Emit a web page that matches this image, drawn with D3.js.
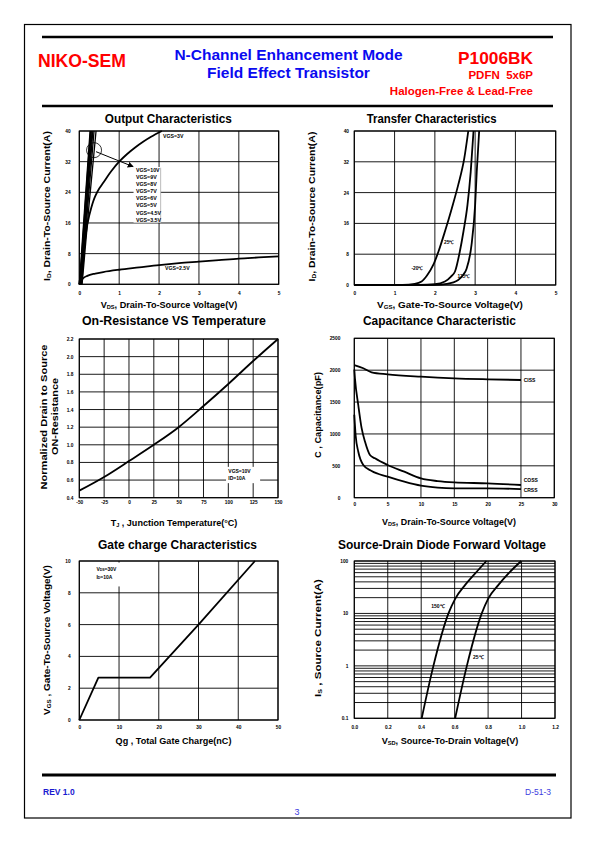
<!DOCTYPE html>
<html><head><meta charset="utf-8">
<script src="https://cdn.jsdelivr.net/npm/d3@7"></script>
<style>
body{margin:0;background:#fff}
svg{display:block}
text{font-family:"Liberation Sans",Arial,Helvetica,sans-serif}
</style>
</head><body>
<svg id="page" width="595" height="842"></svg>
<script>
// ---------------- DATA ----------------
// 1. Output characteristics (VDS [V], ID [A])
const outXTicks = [0,1,2,3,4,5];
const outYTicks = [0,8,16,24,32,40];
const outVgs3V  = [[0,0],[0.05,4],[0.1,8],[0.15,12],[0.2,15.5],[0.3,20],[0.4,23],[0.5,25],[0.6,26.5],[0.8,29.5],[1.0,32],[1.2,34],[1.4,35.7],[1.6,37.2],[1.8,38.5],[2.07,40]];
const outVgs25V = [[0,0],[0.05,1],[0.1,1.6],[0.2,2.2],[0.4,2.8],[0.6,3.2],[1,3.8],[1.5,4.4],[2,5.0],[2.5,5.5],[3,5.9],[3.5,6.3],[4,6.7],[4.5,7.0],[5,7.3]];
const outSteepNames = ["VGS=10V","VGS=9V","VGS=8V","VGS=7V","VGS=6V","VGS=5V","VGS=4.5V","VGS=3.5V"];
const outSteepVdsAt40 = [0.27,0.28,0.29,0.30,0.32,0.34,0.37,0.42];

// 2. Transfer characteristics (VGS [V], ID [A])
const trXTicks = [0,1,2,3,4,5];
const trYTicks = [0,8,16,24,32,40];
const trM20 = [[0,0],[1.2,0.05],[1.5,0.3],[1.67,0.9],[1.8,2.4],[1.96,5.2],[2.09,8.7],[2.25,13.9],[2.42,19.9],[2.58,26],[2.73,32.9],[2.83,40]];
const tr25  = [[0,0],[1.6,0.05],[2.0,0.2],[2.25,0.9],[2.4,2.2],[2.5,3.5],[2.62,8.7],[2.71,13.9],[2.81,20.8],[2.89,29.4],[2.96,40]];
const tr125 = [[0,0],[2.0,0.05],[2.3,0.3],[2.58,1.3],[2.7,2.6],[2.79,4.3],[2.91,10.4],[3.0,20.8],[3.04,29.4],[3.1,40]];

// 3. On-resistance vs temperature
const rdsXTicks = [-50,-25,0,25,50,75,100,125,150];
const rdsYTicks = [0.4,0.6,0.8,1.0,1.2,1.4,1.6,1.8,2.0,2.2];
const rdsTemp = [-50,-25,0,25,50,75,100,125,150];
const rdsNorm = [0.48,0.635,0.815,1.0,1.2,1.44,1.69,1.95,2.2];

// 4. Capacitance (VDS [V], C [pF])
const capXTicks = [0,5,10,15,20,25,30];
const capYTicks = [0,500,1000,1500,2000,2500];
const cissV = [0,1.35,2.6,5,10,15,20,25];
const ciss  = [2080,2030,1966,1935,1898,1872,1857,1846];
const cossV = [0,0.1,0.6,1.1,1.6,2.35,3.1,5,7.5,10,12.5,15,20,25];
const coss  = [2010,1870,1450,1090,880,670,617,513,408,303,261,240,225,199];
const crssV = [0,0.2,0.6,1.35,2.6,5,7.5,10,12.5,15,20,25];
const crss  = [1300,980,720,513,418,330,251,188,157,146,146,136];

// 5. Gate charge (Qg [nC], VGS [V])
const qgXTicks = [0,10,20,30,40,50];
const qgYTicks = [0,2,4,6,8,10];
const qgCharge = [0,4.8,17.8,30,44.2];
const qgVolt   = [0,2.66,2.66,6.0,10];

// 6. Source-drain diode (VSD [V], IS [A], log)
const sdXTicks = [0,0.2,0.4,0.6,0.8,1.0,1.2];
const sdYTicks = [0.1,1,10,100];
const sd150V = [0.403,0.473,0.563,0.603,0.663,0.723,0.79];
const sd25V  = [0.603,0.673,0.762,0.80,0.862,0.922,0.998];
const sdI    = [0.1,1,10,19,35,58,100];

// ---------------- DRAWING ----------------
const svg = d3.select("#page");
const RED = "#ff0000", BLUE = "#0a0af0";

svg.append("rect").attr("x",24.5).attr("y",24.5).attr("width",546.5).attr("height",793.5)
  .attr("fill","none").attr("stroke","#000").attr("stroke-width",1.2);
[37,106].forEach(yy=>svg.append("line").attr("x1",42).attr("x2",553).attr("y1",yy).attr("y2",yy)
  .attr("stroke","#000").attr("stroke-width",2.5));
svg.append("line").attr("x1",42).attr("x2",556).attr("y1",775).attr("y2",775).attr("stroke","#000").attr("stroke-width",3);

function txt(x,y,s,o){
  const t = svg.append("text").attr("x",x).attr("y",y).text(s)
    .attr("font-size",o.size).attr("font-weight",o.bold?"bold":"normal")
    .attr("fill",o.color||"#000").attr("text-anchor",o.anchor||"start");
  if(o.len) t.attr("textLength",o.len).attr("lengthAdjust","spacingAndGlyphs");
  return t;
}
// header
txt(38,67.3,"NIKO-SEM",{size:17.6,bold:true,color:RED});
txt(288.5,60,"N-Channel Enhancement Mode",{size:15.5,bold:true,color:BLUE,anchor:"middle"});
txt(288.5,78,"Field Effect Transistor",{size:15.5,bold:true,color:BLUE,anchor:"middle"});
txt(533,64,"P1006BK",{size:17.3,bold:true,color:RED,anchor:"end"});
txt(533,79,"PDFN\u00a0 5x6P",{size:11.5,bold:true,color:RED,anchor:"end"});
txt(533,95,"Halogen-Free & Lead-Free",{size:11.5,bold:true,color:RED,anchor:"end"});
// footer
txt(43,794.5,"REV 1.0",{size:8.5,bold:true,color:"#1a1ad0"});
txt(551,794.5,"D-51-3",{size:8.5,color:"#3c3ce0",anchor:"end"});
txt(297,815,"3",{size:9,color:"#3c3ce0",anchor:"middle"});

// rich text with subscripts, stretched along its direction to a target length
function rich(g,x,y,parts,size,rot,len){
  const t = g.append("text").attr("font-size",size).attr("font-weight","bold").attr("fill","#000")
    .attr("text-anchor","middle");
  parts.forEach(p=>{
    const s = t.append("tspan").text(p[0]);
    if(p[1]) s.attr("font-size",size*0.62).attr("baseline-shift","-18%");
  });
  const natural = t.node().getComputedTextLength();
  const k = len ? len/natural : 1;
  t.attr("transform",`translate(${x},${y})${rot?" rotate(-90)":""} scale(${k},1)`);
  return t;
}

function panel(c){
  const g = svg.append("g");
  const x = d3.scaleLinear().domain(c.xd).range([c.left,c.right]);
  const y = (c.ylog?d3.scaleLog():d3.scaleLinear()).domain(c.yd).range([c.bottom,c.top]);
  g.selectAll(".vg").data(c.xt).join("line")
    .attr("x1",d=>x(d)).attr("x2",d=>x(d)).attr("y1",c.top).attr("y2",c.bottom)
    .attr("stroke","#000").attr("stroke-width",0.9);
  g.selectAll(".hg").data(c.ygrid||c.yt).join("line")
    .attr("x1",c.left).attr("x2",c.right).attr("y1",d=>y(d)).attr("y2",d=>y(d))
    .attr("stroke","#000").attr("stroke-width",0.9);
  g.append("rect").attr("x",c.left).attr("y",c.top).attr("width",c.right-c.left).attr("height",c.bottom-c.top)
    .attr("fill","none").attr("stroke","#000").attr("stroke-width",1.1);
  const ax = g.append("g").attr("transform",`translate(0,${c.bottom})`)
    .call(d3.axisBottom(x).tickValues(c.xt).tickSize(0).tickPadding(c.xpad).tickFormat(c.xf||(d=>d)));
  const ay = g.append("g").attr("transform",`translate(${c.left},0)`)
    .call(d3.axisLeft(y).tickValues(c.yt).tickSize(0).tickPadding(c.ypad).tickFormat(c.yf||(d=>d)));
  [ax,ay].forEach(a=>{
    a.select(".domain").remove();
    a.attr("font-family",null).attr("font-size",null);
    a.selectAll("text").attr("font-size",4.8).attr("font-weight","bold").attr("fill","#000");
  });
  txt(c.tx,c.ty,c.title,{size:12,bold:true,anchor:"middle",len:c.tlen});
  rich(g,c.xtx,c.xty,c.xtitle,9,false,c.xlen);
  c.ytitles.forEach((yt,i)=>rich(g,c.ytx[i],c.yty[i],yt,9,true,c.ylen[i]));
  return {g,x,y};
}
function curve(p,pts,cv,w){
  p.g.append("path").datum(pts)
    .attr("d",d3.line().x(d=>p.x(d[0])).y(d=>p.y(d[1])).curve(cv||d3.curveMonotoneX))
    .attr("fill","none").attr("stroke","#000").attr("stroke-width",w||1.8).attr("stroke-linejoin","round");
}
function small(p,xv,yv,s,size,anchor){
  return p.g.append("text").attr("x",p.x(xv)).attr("y",p.y(yv)).text(s)
    .attr("font-size",size||4.8).attr("font-weight","bold").attr("text-anchor",anchor||"start");
}
function whiteBox(p,x0,y0,x1,y1){
  return p.g.append("rect").attr("x",p.x(x0)).attr("y",p.y(y0))
    .attr("width",p.x(x1)-p.x(x0)).attr("height",p.y(y1)-p.y(y0)).attr("fill","#fff");
}

// ---- 1. Output characteristics
const p1 = panel({left:79.3,right:278.7,top:131,bottom:284.3,xd:[0,5],yd:[0,40],xt:outXTicks,yt:outYTicks,
  xpad:7.5,ypad:8.6,title:"Output Characteristics",tx:168.3,ty:122.5,tlen:127,
  xtitle:[["V"],["DS",1],[", Drain-To-Source Voltage(V)"]],xtx:169,xty:308,xlen:137,
  ytitles:[[["I"],["D",1],[", Drain-To-Source Current(A)"]]],ytx:[50],yty:[206],ylen:[150]});
outSteepVdsAt40.forEach((v,i)=>curve(p1,[[0.01*i,0],[v*0.5+0.004*i,20],[v,40]],d3.curveLinear,1.3));
curve(p1,outVgs3V,d3.curveMonotoneY);
curve(p1,outVgs25V);
whiteBox(p1,1.36,30.6,2.04,16.1);
p1.g.append("line").attr("x1",p1.x(2.04)).attr("x2",p1.x(2.04)).attr("y1",p1.y(30.4)).attr("y2",p1.y(16.1))
  .attr("stroke","#aaa").attr("stroke-width",0.8);
outSteepNames.forEach((n,i)=>small(p1,1.42,29.4-i*1.87,n,5.3));
small(p1,2.1,38.2,"VGS=3V",5.2);
small(p1,2.15,3.7,"VGS=2.5V",5.2);
p1.g.append("circle").attr("cx",p1.x(0.37)).attr("cy",p1.y(35)).attr("r",7.5)
  .attr("fill","none").attr("stroke","#000").attr("stroke-width",0.8);
svg.append("defs").append("marker").attr("id","arr").attr("viewBox","0 0 10 10").attr("refX",9).attr("refY",5)
  .attr("markerWidth",6).attr("markerHeight",6).attr("orient","auto")
  .append("path").attr("d","M0,0L10,5L0,10z").attr("fill","#000");
p1.g.append("line").attr("x1",p1.x(0.42)).attr("y1",p1.y(34.6)).attr("x2",p1.x(1.35)).attr("y2",p1.y(30.7))
  .attr("stroke","#000").attr("stroke-width",1).attr("marker-end","url(#arr)");

// ---- 2. Transfer characteristics
const p2 = panel({left:354.3,right:555.7,top:131,bottom:285,xd:[0,5],yd:[0,40],xt:trXTicks,yt:trYTicks,
  xpad:6.8,ypad:5.3,title:"Transfer Characteristics",tx:431.7,ty:122.5,tlen:130,
  xtitle:[["V"],["GS",1],[", Gate-To-Source Voltage(V)"]],xtx:450,xty:308,xlen:146,
  ytitles:[[["I"],["D",1],[", Drain-To-Source Current(A)"]]],ytx:[315],yty:[206.5],ylen:[150]});
[trM20,tr25,tr125].forEach(d=>curve(p2,d));
small(p2,2.23,10.6,"25\u2103",4.8);
small(p2,1.42,3.8,"-20\u2103",4.8);
small(p2,2.56,1.8,"125\u2103",4.8);

// ---- 3. On-resistance
const p3 = panel({left:79.3,right:278,top:339,bottom:497.7,xd:[-50,150],yd:[0.4,2.2],xt:rdsXTicks,yt:rdsYTicks,
  xpad:3.4,ypad:6,yf:d3.format(".1f"),title:"On-Resistance VS Temperature",tx:174,ty:325,tlen:184,
  xtitle:[["T"],["J",1],[" , Junction Temperature(\u00b0C)"]],xtx:174,xty:526,xlen:127,
  ytitles:[[["Normalized Drain to Source"]],[["ON-Resistance"]]],ytx:[47,58],yty:[417,416.5],ylen:[145,77]});
curve(p3,rdsTemp.map((t,i)=>[t,rdsNorm[i]]));
whiteBox(p3,97.7,0.75,132,0.565);
small(p3,100,0.675,"VGS=10V",5);
small(p3,100,0.597,"ID=10A",5);

// ---- 4. Capacitance
const p4 = panel({left:354.3,right:554.3,top:338.3,bottom:497.7,xd:[0,30],yd:[0,2500],xt:capXTicks,yt:capYTicks,
  xpad:5.1,ypad:14,title:"Capacitance Characteristic",tx:439.5,ty:325,tlen:153,
  xtitle:[["V"],["DS",1],[", Drain-To-Source Voltage(V)"]],xtx:449,xty:524.5,xlen:134,
  ytitles:[[["C , Capacitance(pF)"]]],ytx:[321],yty:[415],ylen:[86]});
curve(p4,cissV.map((v,i)=>[v,ciss[i]]));
curve(p4,cossV.map((v,i)=>[v,coss[i]]));
curve(p4,crssV.map((v,i)=>[v,crss[i]]));
small(p4,25.4,1815,"CISS",5);
small(p4,25.4,245,"COSS",5);
small(p4,25.4,90,"CRSS",5);

// ---- 5. Gate charge
const p5 = panel({left:79.3,right:278,top:561,bottom:720,xd:[0,50],yd:[0,10],xt:qgXTicks,yt:qgYTicks,
  xpad:5.1,ypad:8.6,title:"Gate charge Characteristics",tx:177.5,ty:548.5,tlen:159,
  xtitle:[["Qg , Total Gate Charge(nC)"]],xtx:173.5,xty:744,xlen:116,
  ytitles:[[["V"],["GS",1],[" , Gate-To-Source Voltage(V)"]]],ytx:[50],yty:[640],ylen:[150]});
curve(p5,qgCharge.map((q,i)=>[q,qgVolt[i]]),d3.curveLinear);
whiteBox(p5,3.6,9.9,10.8,8.4);
const vds = p5.g.append("text").attr("x",p5.x(4.3)).attr("y",p5.y(9.4)).attr("font-size",5).attr("font-weight","bold");
vds.append("tspan").text("V"); vds.append("tspan").text("DS").attr("font-size",3.5); vds.append("tspan").text("=30V");
const idt = p5.g.append("text").attr("x",p5.x(4.3)).attr("y",p5.y(8.85)).attr("font-size",5).attr("font-weight","bold");
idt.append("tspan").text("I"); idt.append("tspan").text("D").attr("font-size",3.5); idt.append("tspan").text("=10A");

// ---- 6. Source-drain diode
const sdGrid = [];
[0.1,1,10].forEach(dec=>{ for(let k=1;k<10;k++) sdGrid.push(dec*k); });
sdGrid.push(100);
const p6 = panel({left:354.3,right:555,top:561,bottom:718.3,xd:[0,1.2],yd:[0.1,100],ylog:true,xt:sdXTicks,yt:sdYTicks,
  ygrid:sdGrid,xpad:6.8,ypad:6,xf:d3.format(".1f"),yf:d=>String(d),
  title:"Source-Drain Diode Forward Voltage",tx:442,ty:548.5,tlen:208,
  xtitle:[["V"],["SD",1],[", Source-To-Drain Voltage(V)"]],xtx:450,xty:744,xlen:137,
  ytitles:[[["I"],["S",1],[" , Source Current(A)"]]],ytx:[321],yty:[638],ylen:[118]});
curve(p6,sd150V.map((v,i)=>[v,sdI[i]]));
curve(p6,sd25V.map((v,i)=>[v,sdI[i]]));
small(p6,0.46,12.5,"150\u2103",5);
small(p6,0.71,1.35,"25\u2103",5);
</script>
</body></html>
